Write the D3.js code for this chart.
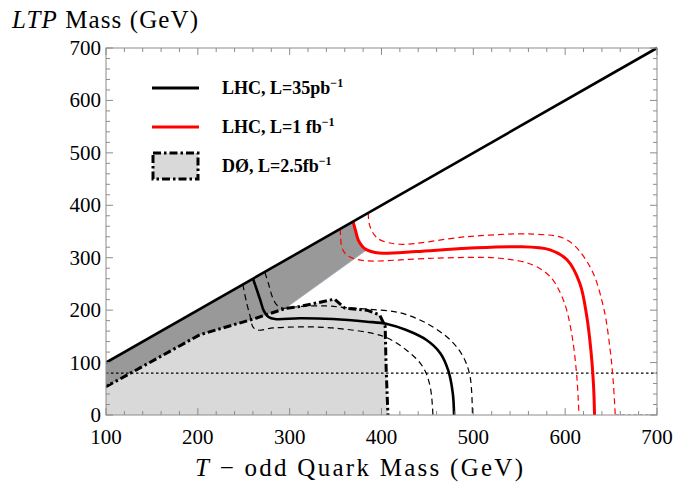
<!DOCTYPE html>
<html><head><meta charset="utf-8">
<script src="https://cdn.jsdelivr.net/npm/d3@7"></script>
<style>html,body{margin:0;padding:0;background:#fff;}svg{display:block;}</style>
</head><body>
<svg id="chart" width="676" height="493"></svg>
<script>
// ---- data (GeV) ----
const xTicks = [100, 200, 300, 400, 500, 600, 700];
const yTicks = [0, 100, 200, 300, 400, 500, 600, 700];
const diagonal = [[100, 100], [700, 700]];
const d0Boundary = [[100, 54], [202, 153], [264, 185], [295, 203], [311, 207], [349, 221], [360, 204], [384, 200], [398, 191], [404, 169], [405, 92], [407, 0]];
const darkBand = [[100, 100], [369, 369], [372, 350], [374.6, 334], [379, 322], [384, 315], [295, 203], [264, 185], [202, 153], [100, 54]];
const lhc35Central = [[260, 260], [264, 240], [268, 219], [272, 198], [277, 187], [284, 183], [311, 184.5], [347, 183], [384, 178], [406, 173.6], [427, 162], [449, 143], [464, 118], [472.5, 86], [477.6, 42], [479, 0]];
const lhc35Lower = [[249, 249], [253, 215], [257, 188], [260, 168], [265, 162], [282, 166], [311, 168], [347, 166], [402, 150], [427, 124], [445, 92], [453, 54], [456, 0]];
const lhc35Upper = [[273, 272], [277, 250], [281, 226], [286, 210], [292, 204], [311, 207], [340, 208], [360, 205], [384, 202], [420, 195], [449, 175], [475, 143], [489, 111], [496.5, 73], [499, 0]];
const lhc1Central = [[369, 369], [372, 350], [374.6, 334], [379, 322], [384, 315], [393, 310], [402, 308.5], [438, 311.7], [493, 318], [547, 321], [583.6, 315], [602, 296], [616, 251], [623.6, 187.6], [628, 124], [630.8, 60], [632, 0]];
const lhc1Upper = [[385.6, 385.6], [386, 372], [387.6, 359], [392, 344], [398.5, 334], [420, 325.7], [493, 340], [565, 345], [602, 334], [627, 283], [641.6, 206.7], [649, 124], [652.5, 60], [654.5, 0]];
const lhc1Lower = [[355, 355], [355.5, 340], [356.6, 321], [361, 307], [369, 299], [384, 294], [456, 299], [529, 299], [565, 286], [583.6, 264], [598, 219.5], [607, 156], [612.7, 73], [615, 0]];
const ltpLimit = [[100, 80], [700, 80]];
const bottomTrace = [[655, 0], [700, 0]];
const legendLabels = ["LHC, L=35pb", "LHC, L=1 fb", "DØ, L=2.5fb"];

(function () {
// ---- layout ----
const svg = d3.select("#chart");
const pL = 106, pR = 657, pT = 48, pB = 415;
const x = d3.scaleLinear().domain([100, 700]).range([pL, pR]);
const y = d3.scaleLinear().domain([0, 700]).range([pB, pT]);
const serif = "'Liberation Serif', 'DejaVu Serif', serif";

svg.append("clipPath").attr("id", "clip").append("rect")
  .attr("x", pL).attr("y", pT - 2).attr("width", pR - pL + 2).attr("height", pB - pT + 2);
const g = svg.append("g").attr("clip-path", "url(#clip)");

const lineLin = d3.line().x(d => x(d[0])).y(d => y(d[1]));
const lineSmooth = d3.line().x(d => x(d[0])).y(d => y(d[1])).curve(d3.curveCatmullRom.alpha(0.5));

// light gray D0 area
const d0Area = d0Boundary.concat([[100, 0]]);
g.append("path").attr("d", lineLin(d0Area) + "Z").attr("fill", "#d9d9d9").attr("stroke", "none");
// dark band
g.append("path").attr("d", lineLin(darkBand) + "Z").attr("fill", "#999999").attr("stroke", "#a9a9c0").attr("stroke-width", 0.8);

// dotted LTP limit
g.append("path").attr("d", lineLin(ltpLimit)).attr("fill", "none").attr("stroke", "#000").attr("stroke-width", 1.3).attr("stroke-dasharray", "2.5,2.5");
g.append("path").attr("d", lineLin(bottomTrace)).attr("fill", "none").attr("stroke", "#8a4a80").attr("stroke-width", 1.2).attr("stroke-dasharray", "3,3");

// dashed curves
[lhc35Lower, lhc35Upper].forEach(dat => {
  g.append("path").attr("d", lineSmooth(dat)).attr("fill", "none").attr("stroke", "#000").attr("stroke-width", 1.2).attr("stroke-dasharray", "6,4");
});
[lhc1Lower, lhc1Upper].forEach(dat => {
  g.append("path").attr("d", lineSmooth(dat)).attr("fill", "none").attr("stroke", "#ff0000").attr("stroke-width", 1.2).attr("stroke-dasharray", "6,4");
});
// solid curves
g.append("path").attr("d", lineSmooth(lhc35Central)).attr("fill", "none").attr("stroke", "#000").attr("stroke-width", 2.6);
g.append("path").attr("d", lineSmooth(lhc1Central)).attr("fill", "none").attr("stroke", "#ff0000").attr("stroke-width", 3);
// D0 dash-dot boundary
g.append("path").attr("d", lineLin(d0Boundary)).attr("fill", "none").attr("stroke", "#000").attr("stroke-width", 3)
  .attr("stroke-dasharray", "8,3,2.5,3");
// diagonal
g.append("path").attr("d", lineLin(diagonal)).attr("fill", "none").attr("stroke", "#000").attr("stroke-width", 2.6);

// ---- frame & ticks ----
const frameColor = "#8c8c8c";
svg.append("rect").attr("x", pL).attr("y", pT).attr("width", pR - pL).attr("height", pB - pT)
  .attr("fill", "none").attr("stroke", frameColor).attr("stroke-width", 1);
const tg = svg.append("g").attr("stroke", frameColor).attr("stroke-width", 1);
for (let v = 100; v <= 700; v += 20) {
  const len = (v % 100 === 0) ? 7 : 4;
  tg.append("line").attr("x1", x(v)).attr("x2", x(v)).attr("y1", pB).attr("y2", pB - len);
  tg.append("line").attr("x1", x(v)).attr("x2", x(v)).attr("y1", pT).attr("y2", pT + len);
}
for (let v = 0; v <= 700; v += 20) {
  const len = (v % 100 === 0) ? 7 : 4;
  tg.append("line").attr("y1", y(v)).attr("y2", y(v)).attr("x1", pL).attr("x2", pL + len);
  tg.append("line").attr("y1", y(v)).attr("y2", y(v)).attr("x1", pR).attr("x2", pR - len);
}
// tick labels
svg.append("g").selectAll("text").data(xTicks).join("text")
  .attr("x", d => x(d)).attr("y", 444).attr("text-anchor", "middle")
  .attr("font-family", serif).attr("font-size", 21).attr("fill", "#000").text(d => d);
svg.append("g").selectAll("text").data(yTicks).join("text")
  .attr("x", 101).attr("y", d => y(d) + 7).attr("text-anchor", "end")
  .attr("font-family", serif).attr("font-size", 21).attr("fill", "#000").text(d => d);

// axis titles
const yt = svg.append("text").attr("x", 12).attr("y", 28).attr("font-family", serif).attr("font-size", 25).attr("fill", "#000")
  .attr("textLength", 186).attr("lengthAdjust", "spacing");
yt.append("tspan").attr("font-style", "italic").text("LTP");
yt.append("tspan").text(" Mass (GeV)");
const xt = svg.append("text").attr("x", 195).attr("y", 476).attr("font-family", serif).attr("font-size", 25).attr("fill", "#000")
  .attr("textLength", 328).attr("lengthAdjust", "spacing");
xt.append("tspan").attr("font-style", "italic").text("T");
xt.append("tspan").text(" − odd Quark Mass (GeV)");

// ---- legend ----
const lx1 = 152, lx2 = 199;
const legY = [88, 127, 166];
svg.append("line").attr("x1", lx1).attr("x2", lx2).attr("y1", legY[0]).attr("y2", legY[0]).attr("stroke", "#000").attr("stroke-width", 3);
svg.append("line").attr("x1", lx1).attr("x2", lx2).attr("y1", legY[1]).attr("y2", legY[1]).attr("stroke", "#ff0000").attr("stroke-width", 3);
svg.append("rect").attr("x", lx1 + 1).attr("y", 153).attr("width", lx2 - lx1 - 2).attr("height", 26)
  .attr("fill", "#d9d9d9").attr("stroke", "#000").attr("stroke-width", 3).attr("stroke-dasharray", "8,3,2.5,3");
legendLabels.forEach((lab, i) => {
  const t = svg.append("text").attr("x", 222).attr("y", legY[i] + 6).attr("font-family", serif)
    .attr("font-weight", "bold").attr("font-size", 18).attr("fill", "#000");
  t.append("tspan").text(lab);
  t.append("tspan").attr("dy", -7).attr("font-size", 12).text("−1");
});
})();
</script>
</body></html>
